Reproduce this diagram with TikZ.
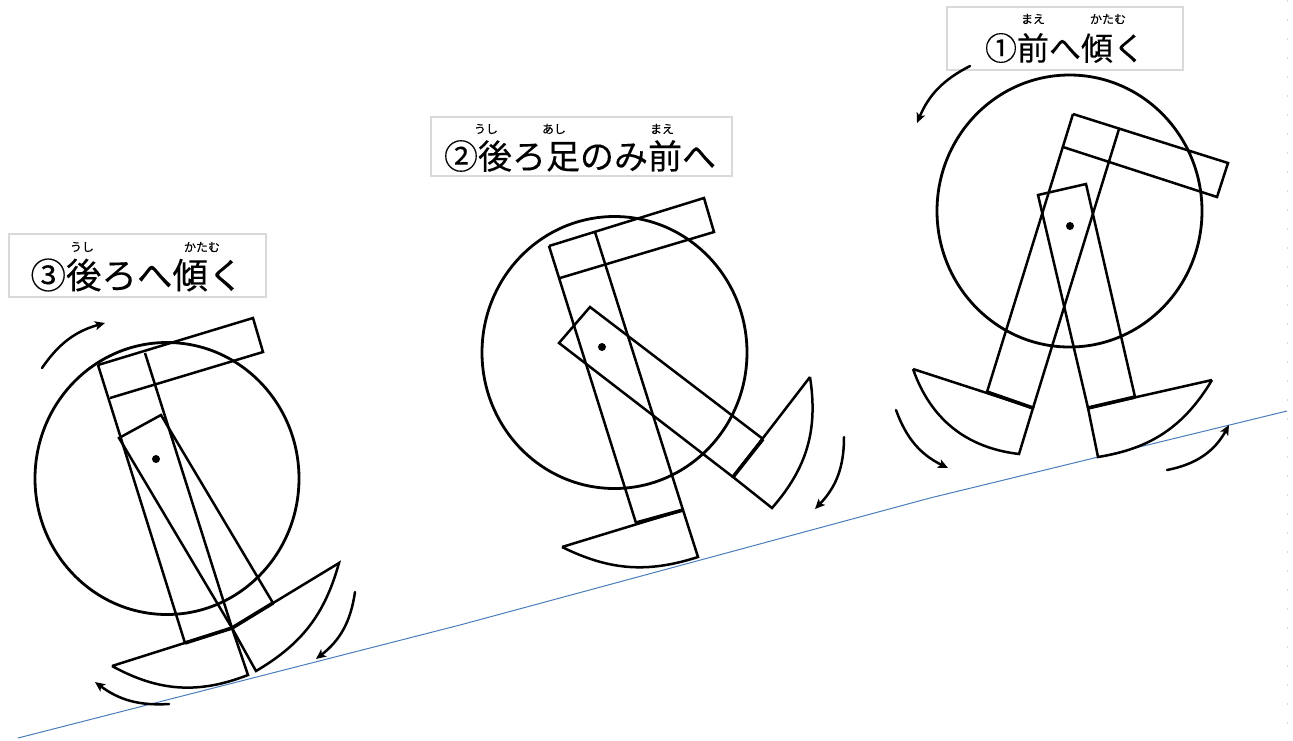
\documentclass[tikz,border=0pt]{standalone}
\usepackage{fontspec}
\setmainfont{Noto Sans CJK JP}[FakeBold=0.25]
\usetikzlibrary{arrows.meta}
\definecolor{slopeblue}{HTML}{4A7EBB}
\definecolor{boxgray}{HTML}{D9D9D9}
\definecolor{tickgray}{HTML}{D8D8D8}

\begin{document}
\begin{tikzpicture}[x=1pt, y=-1pt,
        bodyline/.style={line width=2.5pt, line join=miter},
        bodyround/.style={line width=2.8pt},
        soleline/.style={line width=3.6pt},
        slope/.style={line width=1pt, color=slopeblue},
        turn/.style={line width=2.5pt, line cap=round, -{Stealth[length=10pt,width=9pt,inset=2.5pt]}},
        hip/.style={circle, fill=black, inner sep=0pt, minimum size=8pt},
        titlebox/.style={draw=boxgray, line width=2pt, inner sep=0pt},
        titletext/.style={inner sep=0pt},
        ruby/.style={inner sep=0pt, font=\fontsize{12}{12}\selectfont}
        ]
        \useasboundingbox (0,0) rectangle (1293,740);
        % ground
        \coordinate (g0) at (18,738);
        \coordinate (g1) at (460,625);
        \coordinate (g2) at (930,498);
        \coordinate (g3) at (1287,411);
        \draw [slope] (g0) -- (g1) -- (g2) -- (g3);
        \draw [tickgray, line width=1pt, dash pattern=on 2pt off 17pt] (1287,0) -- (1287,740);

        % first figure
        \node (boxa) [titlebox, minimum width=236pt, minimum height=63pt] at (1065,38.5) {};
        \node (titlea) [titletext, font=\fontsize{32}{32}\selectfont] at (1065,48) {①前へ傾く};
        \node (maea) [ruby] at (1033,19) {まえ};
        \node (katamua) [ruby] at (1108,19) {かたむ};
        \draw [bodyround] (1069.5,211) ellipse [x radius=132.5, y radius=136];
        \draw [bodyline] (1073,114) -- (1228,163) -- (1217,197) -- (1063,147);
        \draw [bodyline] (1073,114) -- (987,392);
        \draw [bodyline] (1119,129) -- (1033,408);
        \draw [bodyline] (913,369) -- (1033,408) -- (1019,454) to[bend left=32] (913,369);
        \draw [soleline] (987,392) -- (1033,408);
        \draw [bodyline] (1088,408) -- (1038,195) -- (1086,184) -- (1135,397);
        \draw [bodyline] (1212,380) -- (1088,408) -- (1098,457) to[bend right=25] (1212,380);
        \draw [soleline] (1088,408) -- (1135,397);
        \node (hipa) [hip] at (1070,226) {};
        \draw [turn] (970,66) to[bend right=20] (917,123);
        \draw [turn] (896,410) to[bend right=22] (948,468);
        \draw [turn] (1167,470) to[bend right=25] (1229,425);

        % second figure
        \node (boxb) [titlebox, minimum width=301pt, minimum height=59pt] at (581.5,146.5) {};
        \node (titleb) [titletext, font=\fontsize{34}{34}\selectfont] at (580,156) {②後ろ足のみ前へ};
        \node (ushib) [ruby] at (486,129) {うし};
        \node (ashib) [ruby] at (554,129) {あし};
        \node (maeb) [ruby] at (662,129) {まえ};
        \draw [bodyround] (614.5,352.5) ellipse [x radius=132.5, y radius=136];
        \draw [bodyline] (549,246) -- (704,198) -- (714,232) -- (560,278);
        \draw [bodyline] (549,246) -- (636,523);
        \draw [bodyline] (595,232) -- (683,510);
        \draw [bodyline] (562,547) -- (683,510) -- (698,557) to[bend left=22] (562,547);
        \draw [soleline] (636,523) -- (683,510);
        \draw [bodyline] (763,439) -- (590,307) -- (559,343) -- (733,477);
        \draw [bodyline] (810,377) -- (733,477) -- (772,508) to[bend right=25] (810,377);
        \draw [soleline] (733,477) -- (763,439);
        \node (hipb) [hip] at (602,347) {};
        \draw [turn] (844,437) to[bend left=22] (815,509);

        % third figure
        \node (boxc) [titlebox, minimum width=257pt, minimum height=63pt] at (137.5,265.5) {};
        \node (titlec) [titletext, font=\fontsize{35.5}{36}\selectfont] at (137,275) {③後ろへ傾く};
        \node (ushic) [ruby] at (82,247) {うし};
        \node (katamuc) [ruby] at (202,247) {かたむ};
        \draw [bodyround] (167,478.5) ellipse [x radius=132, y radius=136];
        \draw [bodyline] (98,365) -- (253,318) -- (263,352) -- (110,398);
        \draw [bodyline] (98,365) -- (185,643);
        \draw [bodyline] (145,353) -- (232,628);
        \draw [bodyline] (112,666) -- (232,628) -- (248,675) to[bend left=25] (112,666);
        \draw [soleline] (185,643) -- (232,628);
        \draw [bodyline] (273,603) -- (161,415) -- (119,438) -- (232,628);
        \draw [bodyline] (232,628) -- (256,671) to[bend right=22] (339,563) -- (232,628);
        \draw [soleline] (232,628) -- (273,603);
        \node (hipc) [hip] at (156,459) {};
        \draw [turn] (42,368) to[bend left=20] (105,323);
        \draw [turn] (355,592) to[bend left=22] (316,659);
        \draw [turn] (169,704) to[bend left=20] (95,682);
      \end{tikzpicture}
\end{document}
